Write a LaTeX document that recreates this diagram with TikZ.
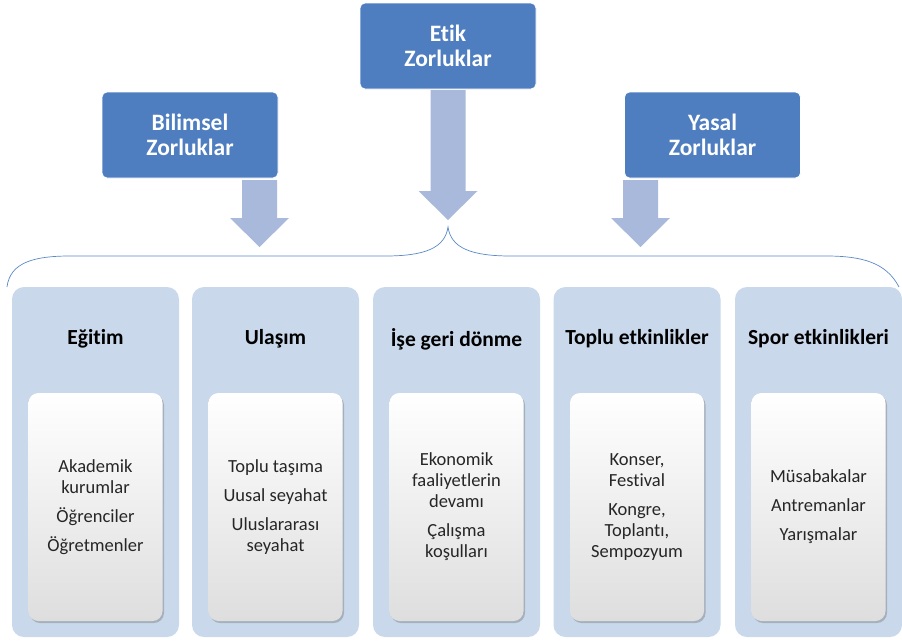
\documentclass[tikz,border=0pt]{standalone}
\usepackage{fontspec}
\setmainfont{Carlito}[Ligatures=NoCommon]
\usetikzlibrary{shadows,calc}
\definecolor{topblue}{HTML}{4F7EC0}
\definecolor{arrowblue}{HTML}{A9B9DB}
\definecolor{colbg}{HTML}{C9D9EB}
\definecolor{bracecol}{HTML}{5B88C6}
\definecolor{ink}{HTML}{000000}
\tikzset{
  topcard/.style={draw=white,fill=topblue,line width=0.8pt,rounded corners=5pt,align=center,
    minimum width=176pt,minimum height=86pt,text=white,font=\fontsize{23.5}{25}\selectfont\bfseries},
  colcard/.style={fill=colbg,rounded corners=12pt,minimum width=167pt,minimum height=350pt},
  headtext/.style={font=\fontsize{21.5}{24}\selectfont\bfseries,text=ink},
  itemcard/.style={rounded corners=10pt,minimum width=134pt,minimum height=228pt,align=center,
    top color=white,middle color=white,bottom color=black!13,
    drop shadow={shadow xshift=1.5pt,shadow yshift=-2pt,opacity=0.35,fill=black!60},
    font=\fontsize{18.5}{21}\selectfont,text=black!85},
  blockarr/.style={fill=arrowblue,draw=none}
}
% block arrow: tip x, shaft top y, head base y, tip y
\newcommand{\blockarrow}[4]{%
  \fill[blockarr] (#1-17.5,#2) -- (#1+17.5,#2) -- (#1+17.5,#3) -- (#1+29.5,#3)
    -- (#1,#4) -- (#1-29.5,#3) -- (#1-17.5,#3) -- cycle;}
\begin{document}
\begin{tikzpicture}[x=1pt,y=-1pt]
  \useasboundingbox (0,0) rectangle (902,640);
  % top level
  \node[topcard] (etik) at (448,46) {Etik\\Zorluklar};
  \node[topcard] (bilimsel) at (190,135) {Bilimsel\\Zorluklar};
  \node[topcard] (yasal) at (712.5,135) {Yasal\\Zorluklar};
  \blockarrow{259.5}{180}{218}{247}
  \blockarrow{448}{90}{191}{220}
  \blockarrow{640.5}{180}{218}{247}
  % brace
  \coordinate (bl) at (7,287);
  \coordinate (cusp) at (448,227);
  \coordinate (br) at (899,287);
  \draw[bracecol,line width=0.7pt] (bl) .. controls (10,262) and (35,256) .. (70,256)
    -- (385,256) .. controls (425,256) and (445,248) .. (cusp)
    .. controls (451,248) and (471,256) .. (511,256)
    -- (826,256) .. controls (861,256) and (886,262) .. (br);
  % columns
  \node[colcard] (col1) at (95.5,462) {};
  \node[colcard] (col2) at (275.5,462) {};
  \node[colcard] (col3) at (456.5,462) {};
  \node[colcard] (col4) at (637,462) {};
  \node[colcard] (col5) at (818.5,462) {};
  \node[headtext] (head1) at (95.5,339) {Eğitim};
  \node[headtext] (head2) at (275.5,339) {Ulaşım};
  \node[headtext] (head3) at (456.5,339) {İşe geri dönme};
  \node[headtext] (head4) at (637,339) {Toplu etkinlikler};
  \node[headtext] (head5) at (818.5,339) {Spor etkinlikleri};
  \node[itemcard] (items1) at (95.5,507)
    {Akademik\\kurumlar\\[8pt]Öğrenciler\\[8pt]Öğretmenler};
  \node[itemcard] (items2) at (275.5,507)
    {Toplu taşıma\\[8pt]Uusal seyahat\\[8pt]Uluslararası\\seyahat};
  \node[itemcard] (items3) at (456.5,507)
    {Ekonomik\\faaliyetlerin\\devamı\\[8pt]Çalışma\\koşulları};
  \node[itemcard] (items4) at (637,507)
    {Konser,\\Festival\\[8pt]Kongre,\\Toplantı,\\Sempozyum};
  \node[itemcard] (items5) at (818.5,507)
    {Müsabakalar\\[8pt]Antremanlar\\[8pt]Yarışmalar};
\end{tikzpicture}
\end{document}
